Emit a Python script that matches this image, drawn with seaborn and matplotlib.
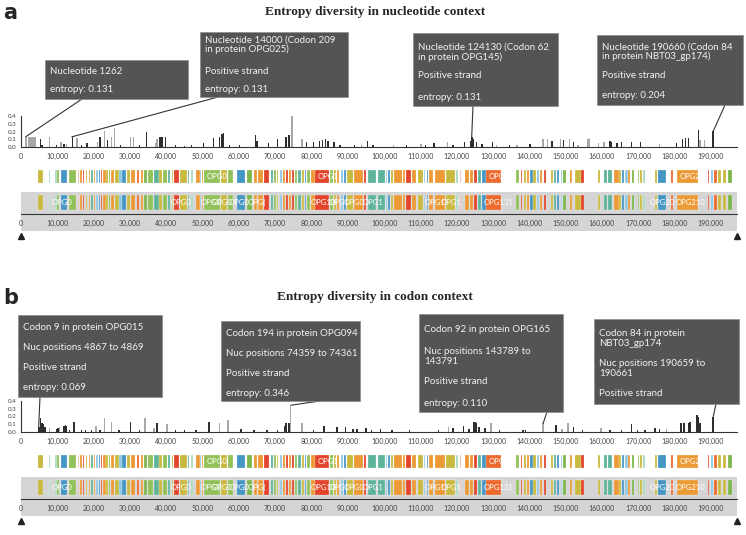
import numpy as np
import pandas as pd
import matplotlib.pyplot as plt
import seaborn as sns
from matplotlib.patches import Rectangle

sns.set_style("white")
plt.rcParams["font.family"] = ["Lato", "DejaVu Sans"]

# genome length (bp)
genome_len = 197200

# gene blocks (kb) and colour keys
gene_start = [4.7, 7.6, 9.4, 9.9, 10.9, 13.2, 15.7, 16.3, 17.0, 17.8, 18.6, 19.3, 20.1, 20.7,
              21.4, 22.1, 22.7, 23.5, 24.2, 24.9, 25.9, 27.1, 27.9, 29.1, 30.4, 31.9, 33.0,
              34.0, 35.0, 36.6, 38.1, 39.1, 40.6, 41.5, 42.2, 43.8, 46.1, 46.8, 48.2, 49.3,
              49.8, 50.4, 55.0, 57.1, 59.6, 62.3, 64.1, 65.4, 66.8, 68.9, 69.6, 70.4, 71.2,
              72.2, 73.1, 73.8, 74.7, 75.5, 76.3, 77.4, 78.1, 78.8, 79.9, 81.0, 85.2, 86.2,
              87.1, 88.2, 88.9, 89.8, 91.8, 94.6, 95.5, 98.2, 100.5, 101.2, 101.8, 102.7,
              105.1, 106.0, 107.6, 109.4, 111.0, 111.7, 112.4, 114.0, 117.0, 119.7, 120.8,
              122.2, 123.7, 124.9, 125.8, 127.0, 128.1, 136.3, 137.7, 138.4, 139.3, 140.2,
              141.1, 142.1, 143.0, 144.1, 145.9, 146.8, 147.7, 148.6, 149.4, 151.2, 152.7,
              154.3, 158.9, 160.5, 161.7, 163.2, 164.8, 165.5, 166.4, 167.3, 168.2, 169.9,
              170.6, 171.3, 174.5, 175.5, 179.0, 180.8, 189.1, 190.1, 190.9, 192.0, 193.3,
              194.7]
gene_end = [6.0, 8.0, 9.8, 10.6, 12.6, 15.1, 16.0, 16.8, 17.4, 18.3, 19.0, 19.8, 20.4, 21.2,
            21.8, 22.4, 23.4, 23.9, 24.6, 25.6, 26.9, 27.7, 28.8, 30.0, 31.3, 32.5, 33.5,
            34.7, 36.4, 37.9, 38.8, 40.1, 41.0, 42.0, 43.5, 45.7, 46.4, 47.3, 49.3, 49.6,
            50.2, 54.8, 56.8, 58.4, 61.8, 63.6, 65.1, 66.7, 68.3, 69.4, 70.1, 70.9, 71.8,
            72.7, 73.4, 74.4, 75.3, 76.0, 77.0, 77.9, 78.6, 79.5, 80.9, 84.9, 85.9, 86.8,
            87.7, 88.6, 89.6, 91.4, 94.1, 95.0, 97.8, 100.3, 100.9, 101.6, 102.4, 104.8,
            105.7, 107.3, 108.9, 110.8, 111.4, 112.1, 113.5, 116.7, 119.4, 120.3, 121.3,
            123.5, 124.6, 125.5, 126.7, 128.1, 132.2, 137.2, 138.1, 139.1, 140.0, 140.9,
            141.8, 142.7, 143.6, 144.7, 146.5, 147.4, 148.2, 149.1, 150.0, 151.8, 154.1,
            155.0, 159.6, 161.4, 162.8, 164.6, 165.2, 166.2, 167.1, 167.8, 168.7, 170.3,
            171.1, 171.9, 175.1, 177.6, 179.7, 186.5, 189.4, 190.6, 191.8, 192.9, 194.3,
            195.8]
gene_color = ["ol", "mi", "mi", "lg", "bl", "lg", "pe", "or", "re", "ol", "or", "te", "or", "lb",
              "bl", "re", "or", "ol", "gr", "or", "ol", "lb", "bl", "ol", "or", "rd", "or",
              "gr", "lg", "te", "ol", "lg", "te", "ol", "re", "ol", "te", "mi", "or", "lb",
              "or", "lg", "ol", "lg", "bl", "gr", "or", "or", "re", "te", "lg", "ol", "lb",
              "or", "re", "or", "re", "lg", "te", "ol", "bl", "lg", "or", "re", "lg", "ol",
              "or", "lb", "bl", "ol", "or", "re", "te", "te", "lb", "bl", "ol", "or",
              "or", "re", "or", "ol", "lb", "bl", "or", "or", "ol", "mi", "pe",
              "or", "or", "re", "te", "bl", "rd", "lg", "re", "ol", "or", "bl",
              "ol", "lb", "or", "re", "ol", "te", "bl", "lb", "gr", "or", "ol",
              "re", "ol", "te", "te", "or", "ol", "bl", "lb", "or", "gr", "lg",
              "ol", "mi", "ol", "bl", "rd", "or", "re", "lb", "rd", "ol", "ol",
              "gr"]
gene_palette = {"ol": "#c9b93e", "mi": "#a6d9bd", "lg": "#92c15a", "bl": "#4696c4",
                "pe": "#f2b9a2", "or": "#ec9a35", "re": "#e3452c", "te": "#5eb39b",
                "lb": "#8fc7e3", "gr": "#7db64c", "rd": "#ec6a2d"}

# gene name labels on the two map rows (kb)
row1_label_pos = [50.8, 81.3, 128.4, 181.2]
row1_label_txt = ["OPG0", "OPG1", "OPG1", "OPG21"]
row2_label_pos = [8.1, 41.0, 49.3, 52.2, 57.0, 62.0, 79.5, 84.5, 88.6, 93.7, 110.8, 115.3,
                  127.0, 172.8, 180.1]
row2_label_txt = ["OPG0", "OPG0", "OPG0", "OPG0", "OPG0", "OPG(", "OPG10", "OPG1", "OPG0",
                  "OPG1", "OPG1", "OPG1", "OPG131", "OPG20", "OPG210"]

# entropy in nucleotide context
nuc_pos = [1262, 2200, 2600, 3000, 3400, 3800, 5500, 5900, 7800, 9900, 10800, 11700, 12700,
           14000, 15400, 16500, 18100, 20900, 21600, 22800, 23700, 25000, 25800, 27500, 30100,
           30800, 32500, 34400, 36800, 37400, 38100, 38600, 39100, 39600, 42500, 44800, 47000,
           50000, 53000, 54400, 55300, 55800, 57500, 60000, 64500, 65000, 68100, 70600, 73100,
           73600, 74600, 77400, 78600, 80600, 82300, 82900, 83800, 84700, 86100, 87900, 91600,
           93900, 95200, 97100, 102600, 106000, 110000, 111300, 113600, 117300, 119100,
           122300, 123600, 124130, 124700, 125300, 126800, 129900, 130900, 134600, 136400,
           140100, 143900, 144800, 146200, 148500, 149400, 150800, 152200, 153500, 156300,
           156700, 159000, 160400, 162100, 162500, 164100, 165500, 168200, 170500, 175600,
           180600, 182000, 182900, 183800, 186600, 187100, 188000, 190660]
nuc_ent = [0.131, 0.13, 0.13, 0.13, 0.13, 0.13, 0.10, 0.03, 0.13, 0.02, 0.06, 0.04, 0.04,
           0.131, 0.12, 0.02, 0.05, 0.07, 0.13, 0.20, 0.09, 0.13, 0.24, 0.02, 0.13,
           0.13, 0.02, 0.19, 0.05, 0.10, 0.13, 0.13, 0.13, 0.13, 0.02, 0.01, 0.02,
           0.05, 0.12, 0.13, 0.17, 0.18, 0.02, 0.03, 0.15, 0.08, 0.05, 0.10, 0.13,
           0.16, 0.40, 0.10, 0.06, 0.07, 0.08, 0.09, 0.10, 0.08, 0.07, 0.03, 0.03,
           0.02, 0.08, 0.03, 0.02, 0.02, 0.04, 0.03, 0.05, 0.07, 0.03,
           0.07, 0.08, 0.131, 0.10, 0.06, 0.04, 0.07, 0.03, 0.02, 0.02,
           0.04, 0.10, 0.10, 0.08, 0.10, 0.09, 0.10, 0.07, 0.03, 0.10,
           0.11, 0.05, 0.07, 0.08, 0.07, 0.05, 0.06, 0.07, 0.07, 0.04,
           0.05, 0.10, 0.12, 0.11, 0.22, 0.09, 0.09, 0.204]
nuc_shade = ["light", "light", "light", "light", "light", "light", "dark", "dark", "light",
             "dark", "light", "dark", "light", "dark", "light", "dark", "dark", "light", "dark",
             "light", "dark", "light", "light", "dark", "light", "light", "dark", "dark",
             "light", "light", "dark", "dark", "dark", "dark", "dark", "dark", "dark", "dark",
             "dark", "dark", "dark", "dark", "dark", "dark", "dark", "dark", "dark", "dark",
             "dark", "dark", "light", "light", "dark", "dark", "dark", "dark", "dark", "dark",
             "dark", "dark", "dark", "light", "dark", "dark", "light", "dark", "light", "dark",
             "dark", "light", "dark", "dark", "dark", "dark", "dark", "dark", "dark", "dark",
             "light", "dark", "light", "dark", "light", "light", "dark", "light", "dark",
             "light", "dark", "light", "light", "light", "light", "light", "dark", "dark",
             "dark", "dark", "dark", "dark", "light", "dark", "dark", "dark", "dark", "dark",
             "light", "light", "dark"]

# entropy in codon context
cod_pos = [4868, 5300, 5700, 6100, 6500, 7700, 9700, 10200, 10700, 11600, 12100, 12600, 13400,
           14700, 16400, 17800, 19200, 20600, 21900, 23000, 24900, 27000, 30200, 32500, 34300,
           36600, 37300, 40300, 42500, 44900, 48000, 51700, 54700, 57100, 60500, 64000, 67800,
           70400, 72600, 73100, 73600, 74360, 77400, 80600, 83400, 87100, 89400, 91200, 92600,
           94900, 96700, 98900, 102000, 107100, 114900, 117600, 119000, 121700, 123500,
           124500, 125000, 125500, 126300, 127600, 129200, 131800, 138000, 139000, 143790,
           147400, 149100, 150700, 152000, 154600, 159800, 162300, 165500, 168200, 169600,
           171900, 174600, 175700, 177800, 181900, 182400, 183600, 184100, 186000, 186500,
           187000, 190660]
cod_ent = [0.069, 0.18, 0.12, 0.10, 0.06, 0.05, 0.04, 0.05, 0.07, 0.08, 0.09, 0.08, 0.03,
           0.13, 0.02, 0.02, 0.02, 0.08, 0.03, 0.18, 0.13, 0.02, 0.13, 0.02, 0.18,
           0.05, 0.12, 0.10, 0.02, 0.02, 0.02, 0.13, 0.12, 0.16, 0.04, 0.02, 0.02,
           0.03, 0.08, 0.12, 0.12, 0.346, 0.12, 0.03, 0.08, 0.06, 0.07, 0.04, 0.04,
           0.05, 0.03, 0.04, 0.02, 0.02, 0.02, 0.06, 0.05, 0.08, 0.04,
           0.13, 0.13, 0.12, 0.07, 0.05, 0.12, 0.02, 0.02, 0.02, 0.11,
           0.09, 0.04, 0.12, 0.06, 0.03, 0.05, 0.02, 0.02, 0.10, 0.02,
           0.03, 0.05, 0.04, 0.04, 0.12, 0.12, 0.12, 0.13, 0.22, 0.20,
           0.12, 0.20]
cod_shade = ["dark", "dark", "dark", "dark", "dark", "light", "dark", "dark", "light", "dark",
             "dark", "dark", "dark", "dark", "dark", "dark", "dark", "light", "dark", "light",
             "light", "dark", "dark", "dark", "light", "light", "dark", "light", "dark", "dark",
             "dark", "dark", "light", "light", "dark", "dark", "dark", "dark", "dark", "dark",
             "dark", "light", "light", "dark", "dark", "dark", "dark", "dark", "dark", "dark",
             "dark", "dark", "dark", "dark", "dark", "light", "dark", "dark", "dark", "dark",
             "dark", "dark", "dark", "dark", "light", "dark", "dark", "dark", "light", "dark",
             "light", "light", "dark", "dark", "light", "dark", "dark", "dark", "dark", "dark",
             "dark", "dark", "light", "dark", "dark", "dark", "dark", "dark", "dark", "dark",
             "dark"]

# tooltip texts and the sites they point at
nuc_tips = [["Nucleotide 1262", "entropy: 0.131"],
            ["Nucleotide 14000 (Codon 209", "in protein OPG025)", "Positive strand", "entropy: 0.131"],
            ["Nucleotide 124130 (Codon 62", "in protein OPG145)", "Positive strand", "entropy: 0.131"],
            ["Nucleotide 190660 (Codon 84", "in protein NBT03_gp174)", "Positive strand", "entropy: 0.204"]]
nuc_tip_site = [1262, 14000, 124130, 190660]
cod_tips = [["Codon 9 in protein OPG015", "Nuc positions 4867 to 4869", "Positive strand", "entropy: 0.069"],
            ["Codon 194 in protein OPG094", "Nuc positions 74359 to 74361", "Positive strand", "entropy: 0.346"],
            ["Codon 92 in protein OPG165", "Nuc positions 143789 to", "143791", "Positive strand", "entropy: 0.110"],
            ["Codon 84 in protein", "NBT03_gp174", "Nuc positions 190659 to", "190661", "Positive strand"]]
cod_tip_site = [4868, 74360, 143790, 190660]

W, H = 746, 535
fig = plt.figure(figsize=(W / 100, H / 100), dpi=100)


def fx(x):
    return x / W


def fy(y):
    return 1 - y / H


def add_ax(x0, y0, x1, y1):
    return fig.add_axes([x0 / W, 1 - y1 / H, (x1 - x0) / W, (y1 - y0) / H])


def draw_genes(ax, y0, h, label_pos, label_txt):
    spans = [(s * 1000, (e - s) * 1000) for s, e in zip(gene_start, gene_end)]
    cols = [gene_palette[c] for c in gene_color]
    ax.broken_barh(spans, (y0, h), facecolors=cols, edgecolor="white", linewidth=0.15)
    # labels are cut off where the next label starts, like the browser does
    stops = label_pos[1:] + [genome_len / 1000]
    for p, q, t in zip(label_pos, stops, label_txt):
        txt = ax.text(p * 1000 + 300, y0 + h / 2, t, color="white", fontsize=5.5,
                      va="center", ha="left")
        clip = Rectangle((p * 1000, 0), (q - p) * 1000, 1, transform=ax.transData)
        txt.set_clip_path(clip)
    ax.set_xlim(0, genome_len)
    ax.set_ylim(0, 1)


def x_ticks(ax):
    ticks = np.arange(0, 190001, 10000)
    ax.set_xticks(ticks)
    ax.set_xticklabels([f"{t:,}" for t in ticks], fontsize=5, color="#444")
    ax.tick_params(axis="x", length=3, width=0.6, pad=1.5, color="#333")


def panel(top, title, letter, pos, ent, shade, tips, sites, boxes):
    # panel letter and title
    fig.text(fx(3), fy(top + 1), letter, fontsize=15, fontweight="bold",
             family="DejaVu Sans", va="center", ha="left")
    fig.text(fx(375), fy(top), title, fontsize=9.5, fontweight="bold",
             family="Liberation Serif", va="center", ha="center")

    # entropy bars
    ax = add_ax(21, top + 104, 737, top + 135)
    df = pd.DataFrame({"pos": pos, "ent": ent, "shade": shade})
    sns.histplot(data=df, x="pos", weights="ent", hue="shade", hue_order=["light", "dark"],
                 palette={"dark": "#2e2e2e", "light": "#a8a8a8"}, binwidth=400,
                 binrange=(0, genome_len), multiple="layer", element="bars", alpha=1,
                 linewidth=0, legend=False, ax=ax)
    ax.set_xlim(0, genome_len)
    ax.set_ylim(0, 0.4)
    ax.set_xlabel("")
    ax.set_ylabel("")
    ax.set_facecolor("none")
    for s in ["top", "right"]:
        ax.spines[s].set_visible(False)
    for s in ["left", "bottom"]:
        ax.spines[s].set_color("#333")
        ax.spines[s].set_linewidth(0.8)
    ax.set_yticks([0, 0.1, 0.2, 0.3, 0.4])
    ax.set_yticklabels(["0.0", "0.1", "0.2", "0.3", "0.4"], fontsize=4.5, color="#444")
    ax.tick_params(axis="y", length=2.5, width=0.6, pad=1, color="#333")
    x_ticks(ax)

    # gene map, first row
    g1 = add_ax(21, top + 158, 737, top + 171)
    draw_genes(g1, 0, 1, row1_label_pos, row1_label_txt)
    g1.set_axis_off()

    # gene map, second row on grey band with axis
    g2 = add_ax(21, top + 180, 737, top + 219)
    g2.set_facecolor("#d5d5d5")
    draw_genes(g2, 0.538, 0.385, row2_label_pos, row2_label_txt)
    for s in ["top", "right", "left"]:
        g2.spines[s].set_visible(False)
    g2.spines["bottom"].set_position(("axes", 0.436))
    g2.spines["bottom"].set_color("#333")
    g2.spines["bottom"].set_linewidth(0.8)
    g2.set_yticks([])
    x_ticks(g2)
    g2.plot([0, genome_len], [-0.14, -0.14], "^", color="#222", ms=5, clip_on=False)

    # tooltips
    for lines, site, (bx0, by0, bx1, by1, lx, ly, ys) in zip(tips, sites, boxes):
        i = pos.index(site)
        ax.annotate("", xy=(site, ent[i]), xycoords="data",
                    xytext=(fx(lx), fy(top + ly)), textcoords="figure fraction",
                    arrowprops=dict(arrowstyle="-", color="#333", lw=0.8,
                                    shrinkA=0, shrinkB=0),
                    annotation_clip=False)
        fig.add_artist(Rectangle((fx(bx0), fy(top + by1)), (bx1 - bx0) / W,
                                 (by1 - by0) / H, transform=fig.transFigure,
                                 facecolor="#4e4e4e", edgecolor="#8a8a8a", lw=0.5,
                                 alpha=0.97, zorder=5))
        for t, y in zip(lines, ys):
            fig.text(fx(bx0 + 5), fy(top + y), t, fontsize=7, color="#f2f2f2",
                     va="center", ha="left", zorder=6)


# box geometry: x0, y0, x1, y1, line anchor x, y, text rows (relative to panel top)
nuc_boxes = [(45, 48, 188, 87, 82, 87, [59, 78]),
             (200, 20, 348, 85, 218, 85, [28, 37, 59, 78]),
             (413, 21, 558, 94, 473, 94, [35, 45, 64, 85]),
             (597, 23, 743, 93, 725, 93, [35, 44, 64, 84])]
cod_boxes = [(18, 18, 162, 100, 40, 100, [30, 50, 70, 90]),
             (221, 24, 360, 104, 320, 104, [36, 57, 77, 97]),
             (419, 17, 563, 115, 547, 115, [33, 54, 64, 85, 106]),
             (594, 22, 739, 107, 716, 107, [36, 46, 67, 77, 97])]

panel(12, "Entropy diversity in nucleotide context", "a",
      nuc_pos, nuc_ent, nuc_shade, nuc_tips, nuc_tip_site, nuc_boxes)
panel(297, "Entropy diversity in codon context", "b",
      cod_pos, cod_ent, cod_shade, cod_tips, cod_tip_site, cod_boxes)

plt.savefig("out.png", dpi=100)
